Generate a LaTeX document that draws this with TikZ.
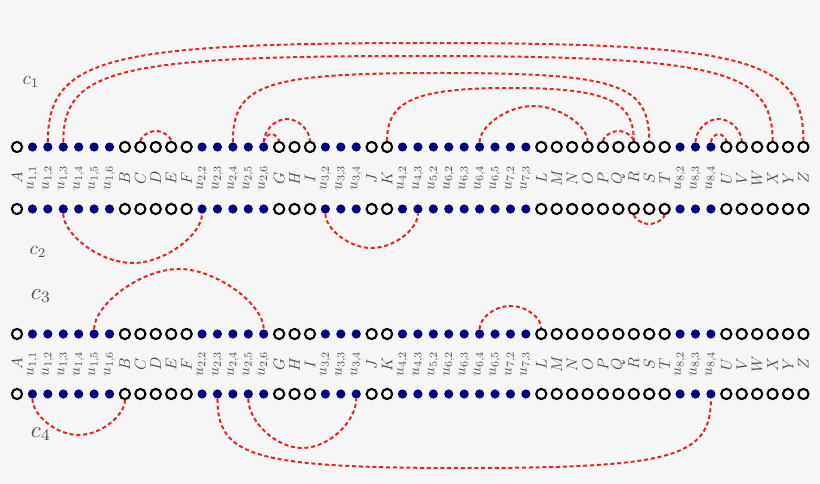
\documentclass[tikz,border=0pt]{standalone}
\usepackage{graphicx}
\usetikzlibrary{calc}
\definecolor{navyc}{rgb}{0,0,0.5}
\definecolor{arcred}{rgb}{0.93,0.13,0.13}
\definecolor{bgc}{HTML}{F6F6F6}
\definecolor{labc}{gray}{0.32}
\tikzset{
 opn/.style={circle,draw=black,line width=2.1pt,fill=white,minimum size=10.2pt,inner sep=0pt},
 fld/.style={circle,fill=navyc,minimum size=9.2pt,inner sep=0pt},
 arcline/.style={draw=arcred,line width=2pt,dash pattern=on 4pt off 2.8pt},
 lab/.style={rotate=90,text=labc,inner sep=0pt},
 clab/.style={text=labc,inner sep=0pt},
}
\newcommand{\harc}[4]{\draw[arcline] let \p1=(#1.center), \p2=(#2.center), \n1={(\x2-\x1)/2} in (#1) .. controls (\x1,{\y1+#4*(#3pt)}) and ({\x1+\n1-#4*\n1},{\y1+(#3pt)}) .. ({\x1+\n1},{\y1+(#3pt)}) .. controls ({\x1+\n1+#4*\n1},{\y1+(#3pt)}) and (\x2,{\y2+#4*(#3pt)}) .. (#2);}
\begin{document}
\begin{tikzpicture}[x=1pt,y=-1pt]
\fill[bgc] (0,0) rectangle (820,484);
\useasboundingbox (0,0) rectangle (820,484);
\foreach \t/\l [count=\i] in {opn/A, fld/{u_{1,1}}, fld/{u_{1,2}}, fld/{u_{1,3}}, fld/{u_{1,4}}, fld/{u_{1,5}}, fld/{u_{1,6}}, opn/B, opn/C, opn/D, opn/E, opn/F, fld/{u_{2,2}}, fld/{u_{2,3}}, fld/{u_{2,4}}, fld/{u_{2,5}}, fld/{u_{2,6}}, opn/G, opn/H, opn/I, fld/{u_{3,2}}, fld/{u_{3,3}}, fld/{u_{3,4}}, opn/J, opn/K, fld/{u_{4,2}}, fld/{u_{4,3}}, fld/{u_{5,2}}, fld/{u_{6,2}}, fld/{u_{6,3}}, fld/{u_{6,4}}, fld/{u_{6,5}}, fld/{u_{7,2}}, fld/{u_{7,3}}, opn/L, opn/M, opn/N, opn/O, opn/P, opn/Q, opn/R, opn/S, opn/T, fld/{u_{8,2}}, fld/{u_{8,3}}, fld/{u_{8,4}}, opn/U, opn/V, opn/W, opn/X, opn/Y, opn/Z} {
  \pgfmathsetmacro\xx{17+(\i-1)*15.42}
  \node[\t] (a\i) at (\xx,147) {};
  \node[\t] (b\i) at (\xx,209) {};
  \node[\t] (c\i) at (\xx,334) {};
  \node[\t] (d\i) at (\xx,394) {};
  \node[lab] (la\i) at (\xx,178) {\scalebox{1.55}{$\l$}};
  \node[lab] (lb\i) at (\xx,364) {\scalebox{1.55}{$\l$}};
}
\node[clab] (k1) at (31,82) {\scalebox{1.9}{$c_1$}};
\node[clab] (k2) at (38,252) {\scalebox{1.9}{$c_2$}};
\node[clab] (k3) at (41,296) {\scalebox{2.3}{$c_3$}};
\node[clab] (k4) at (41,434) {\scalebox{2.3}{$c_4$}};
% row 1
\harc{a3}{a52}{104}{0.85}
\harc{a4}{a50}{91}{0.85}
\harc{a9}{a11}{16}{0.55}
\harc{a15}{a42}{74}{0.85}
\harc{a17}{a18}{13}{0.55}
\harc{a17}{a20}{28}{0.55}
\harc{a25}{a41}{59}{0.78}
\harc{a31}{a38}{41}{0.5}
\harc{a39}{a41}{16}{0.55}
\harc{a45}{a48}{28}{0.55}
\harc{a46}{a47}{13}{0.55}
% row 2
\harc{b4}{b13}{-54}{0.47}
\harc{b21}{b27}{-39}{0.5}
\harc{b41}{b43}{-15}{0.55}
% row 3
\harc{c6}{c17}{65}{0.45}
\harc{c31}{c35}{28}{0.55}
% row 4
\harc{d2}{d8}{-41}{0.5}
\harc{d14}{d46}{-74}{0.85}
\harc{d16}{d23}{-54}{0.5}
\end{tikzpicture}
\end{document}
